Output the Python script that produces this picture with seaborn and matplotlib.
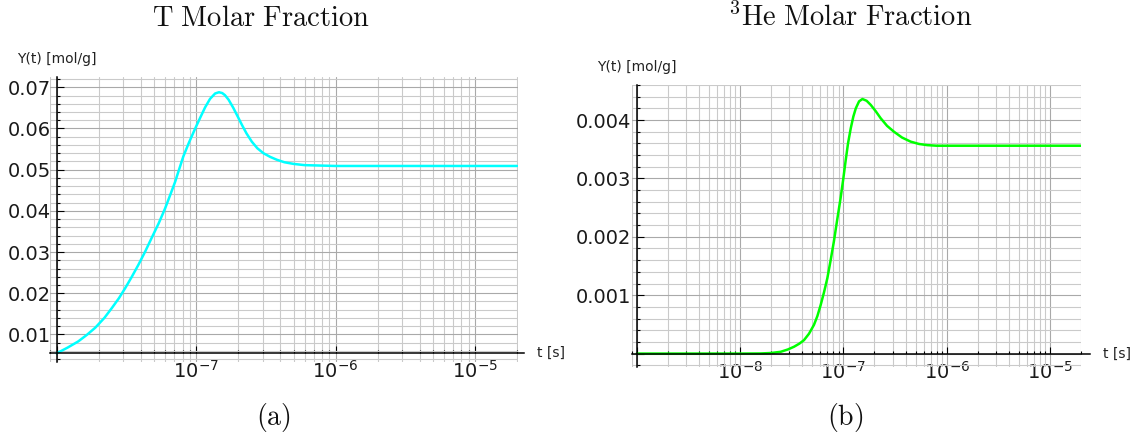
import matplotlib
matplotlib.use("Agg")
import matplotlib.pyplot as plt
import matplotlib.ticker as mticker
import seaborn as sns

# Tritium (T) molar fraction Y(t) [mol/g] versus time t [s]
t_tritium = [1.0e-8, 1.2e-8, 1.43e-8, 1.65e-8, 1.89e-8, 2.2e-8, 2.49e-8,
             2.8e-8, 3.1e-8, 3.45e-8, 3.86e-8, 4.3e-8, 4.8e-8, 5.4e-8,
             6.0e-8, 6.5e-8, 7.07e-8, 7.6e-8, 8.1e-8, 8.9e-8, 9.8e-8,
             1.07e-7, 1.16e-7, 1.26e-7, 1.37e-7, 1.46e-7, 1.54e-7, 1.61e-7,
             1.71e-7, 1.85e-7, 2.01e-7, 2.13e-7, 2.3e-7, 2.51e-7, 2.75e-7,
             3.04e-7, 3.4e-7, 3.8e-7, 4.3e-7, 5.0e-7, 6.0e-7, 7.7e-7,
             1.0e-6, 3.0e-6, 1.0e-5, 2.0e-5]
y_tritium = [0.0054, 0.0068, 0.0083, 0.0099, 0.0116, 0.0140, 0.0164,
             0.0188, 0.0212, 0.0239, 0.0269, 0.0300, 0.0334, 0.0370,
             0.0406, 0.0437, 0.0470, 0.0503, 0.0532, 0.0566, 0.0598,
             0.0626, 0.0651, 0.0672, 0.0685, 0.0688, 0.0686, 0.0681,
             0.0670, 0.0650, 0.0626, 0.0609, 0.0588, 0.0568, 0.0552,
             0.0540, 0.0531, 0.0524, 0.0518, 0.0514, 0.0511, 0.0510,
             0.0509, 0.0509, 0.0509, 0.0509]

# Helium-3 molar fraction Y(t) [mol/g] versus time t [s]
t_helium3 = [1.0e-9, 1.0e-8, 1.58e-8, 2.0e-8, 2.47e-8, 2.9e-8, 3.33e-8,
             3.75e-8, 4.16e-8, 4.65e-8, 5.19e-8, 5.6e-8, 6.03e-8, 6.5e-8,
             7.0e-8, 7.5e-8, 8.1e-8, 8.7e-8, 9.4e-8, 1.0e-7, 1.05e-7,
             1.11e-7, 1.18e-7, 1.25e-7, 1.32e-7, 1.42e-7, 1.53e-7, 1.68e-7,
             1.84e-7, 2.06e-7, 2.3e-7, 2.65e-7, 3.09e-7, 3.7e-7, 4.48e-7,
             5.4e-7, 6.5e-7, 8.0e-7, 1.0e-6, 1.0e-5, 2.0e-5]
y_helium3 = [0.0, 0.0, 0.000002, 0.00001, 0.00003, 0.00007, 0.000117,
             0.00017, 0.00023, 0.00034, 0.00049, 0.00064, 0.00083, 0.00105,
             0.00129, 0.00158, 0.00192, 0.00228, 0.00266, 0.00300, 0.00329,
             0.00360, 0.00386, 0.00406, 0.00420, 0.00432, 0.00436, 0.00433,
             0.00426, 0.00415, 0.00403, 0.00390, 0.00380, 0.00370, 0.00363,
             0.00359, 0.00357, 0.00356, 0.00356, 0.00356, 0.00356]

titles = [r"$\mathrm{T\ Molar\ Fraction}$", r"$^{3}\mathrm{He\ Molar\ Fraction}$"]
captions = [r"$\mathrm{(a)}$", r"$\mathrm{(b)}$"]
y_label = "Y(t) [mol/g]"
x_label = "t [s]"

sns.set_theme(style="white")
plt.rcParams["font.family"] = ["DejaVu Sans"]
plt.rcParams["mathtext.fontset"] = "dejavusans"

W, H = 1135, 437
fig = plt.figure(figsize=(W / 100, H / 100), dpi=100)
fig.patch.set_facecolor("white")


def frac(left, top, right, bottom):
    return [left / W, 1 - bottom / H, (right - left) / W, (bottom - top) / H]


ax1 = fig.add_axes(frac(50, 77, 517.6, 362))
ax2 = fig.add_axes(frac(632, 85, 1081.5, 367))


def style_axes(ax, xlim, ylim, x0, y0, xend, ymajor, yminor, yfmt):
    ax.set_xscale("log")
    ax.set_xlim(*xlim)
    ax.set_ylim(*ylim)
    ax.set_facecolor("white")
    for side in ("top", "right"):
        ax.spines[side].set_visible(False)
    ax.spines["left"].set_position(("data", x0))
    ax.spines["bottom"].set_position(("data", y0))
    ax.spines["bottom"].set_bounds(xlim[0], xend)
    for side in ("left", "bottom"):
        ax.spines[side].set_color("black")
        ax.spines[side].set_linewidth(1.1)
        ax.spines[side].set_clip_on(False)

    ax.xaxis.set_major_locator(mticker.LogLocator(base=10, numticks=20))
    ax.xaxis.set_minor_locator(mticker.LogLocator(base=10, subs=range(2, 10), numticks=50))
    sci = mticker.LogFormatterSciNotation()
    ax.xaxis.set_major_formatter(
        mticker.FuncFormatter(lambda v, p: "" if v <= x0 * 1.01 else sci(v, p)))
    ax.xaxis.set_minor_formatter(mticker.NullFormatter())

    ax.yaxis.set_major_locator(mticker.MultipleLocator(ymajor))
    ax.yaxis.set_minor_locator(mticker.MultipleLocator(yminor))
    ax.yaxis.set_major_formatter(
        mticker.FuncFormatter(lambda v, p: "" if v <= y0 + ymajor * 0.01 else yfmt % v))

    ax.grid(True, which="major", color="#a9a9a9", linewidth=0.8)
    ax.grid(True, which="minor", color="#cacaca", linewidth=0.8)
    ax.set_axisbelow(True)

    ax.tick_params(which="both", direction="in", color="black", width=0.8,
                   bottom=True, left=True, top=False, right=False)
    ax.tick_params(which="major", length=5)
    ax.tick_params(which="minor", length=2.5)
    ax.tick_params(axis="y", which="major", labelsize=14, pad=4, labelcolor="#1a1a1a")
    ax.tick_params(axis="x", which="major", labelsize=14, pad=5, labelcolor="#1a1a1a")

    ax.set_xlabel("")
    ax.set_ylabel("")
    ax.annotate(y_label, xy=(x0, 1), xycoords=("data", "axes fraction"),
                xytext=(0, 18), textcoords="offset pixels",
                ha="center", va="center", fontsize=10, color="#222222",
                annotation_clip=False)
    ax.annotate(x_label, xy=(xend, y0), xycoords="data",
                xytext=(13, 0), textcoords="offset pixels",
                ha="left", va="center", fontsize=10, color="#222222",
                annotation_clip=False)


sns.lineplot(x=t_tritium, y=y_tritium, ax=ax1, color="#00ffff", linewidth=1.8)
sns.lineplot(x=t_helium3, y=y_helium3, ax=ax2, color="#00ff00", linewidth=1.8)

style_axes(ax1, (8.97e-9, 2.02e-5), (0.0033, 0.0725), t_tritium[0], y_tritium[0],
           2.24e-5, 0.01, 0.002, "%.2f")
style_axes(ax2, (9.0e-10, 2.02e-5), (-0.00023, 0.0046), t_helium3[0], y_helium3[0],
           2.42e-5, 0.001, 0.0002, "%.3f")

for x_c, title in zip((261, 850), titles):
    fig.text(x_c / W, 1 - 18 / H, title, ha="center", va="center",
             fontsize=20.5, math_fontfamily="cm", color="#111111")
for x_c, cap in zip((273, 845), captions):
    fig.text(x_c / W, 1 - 418 / H, cap, ha="center", va="center",
             fontsize=20, math_fontfamily="cm", color="#111111")

fig.savefig("out.png", dpi=100, facecolor="white")
